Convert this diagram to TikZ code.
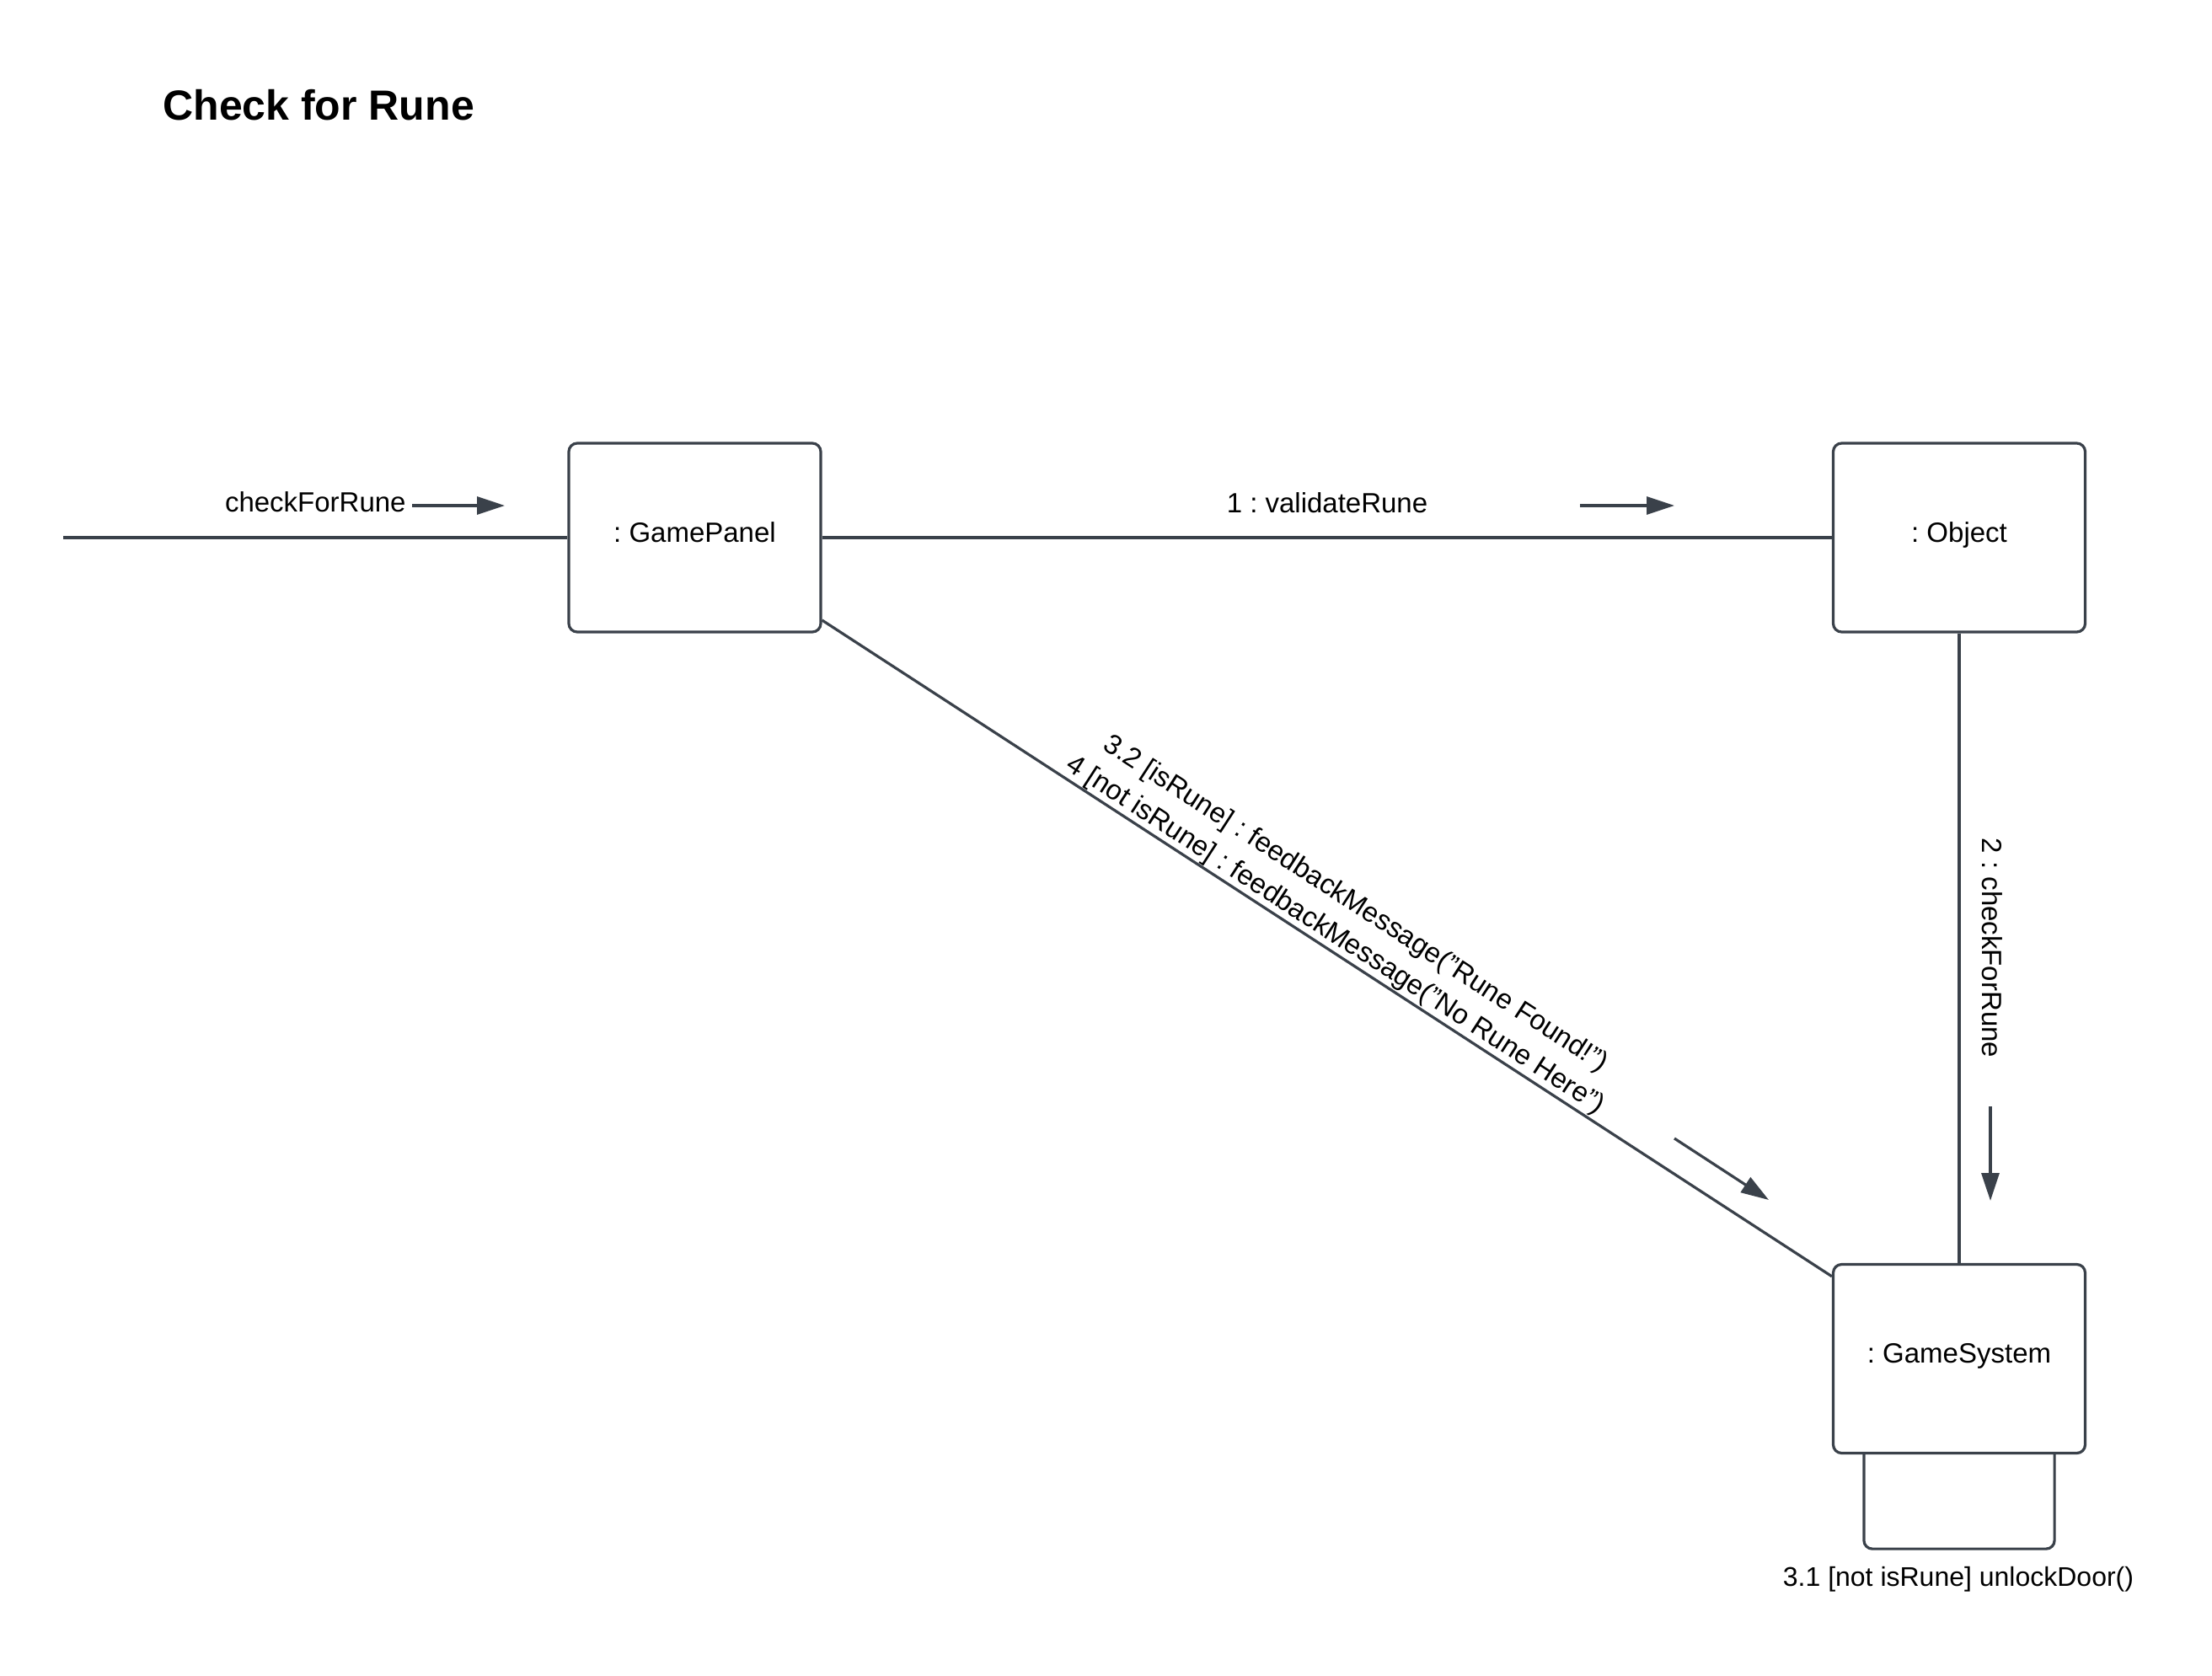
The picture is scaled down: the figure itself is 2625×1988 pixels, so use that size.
\documentclass[tikz,border=0pt]{standalone}
\usepackage{fontspec}
\setmainfont{Liberation Sans}
\usetikzlibrary{arrows.meta}
\definecolor{lineGray}{RGB}{58,65,74}
\frenchspacing

\begin{document}
\begin{tikzpicture}[x=0.5pt, y=-0.5pt,
  every node/.style = {font=\fontsize{16.5}{22}\selectfont},
  object/.style = {shape=rectangle, rounded corners=5pt,
    draw=lineGray, line width=1.6pt,
    text height=12pt, text depth=7pt,
    minimum width=149.5pt, minimum height=112pt},
  link/.style = {draw=lineGray, line width=1.6pt},
  msg/.style = {link, -{Triangle[length=16.5pt, width=10.5pt]}}]
  \useasboundingbox (0,0) rectangle (2625,1988);
  \node[anchor=base west, inner sep=0pt, font=\fontsize{25}{30}\selectfont\bfseries] (title) at (193,142) {Check for Rune};
  % objects
  \node[object] (panel) at (824.5,638) {: GamePanel};
  \node[object] (obj) at (2325,638) {: Object};
  \node[object] (sys) at (2325,1612.5) {: GameSystem};
  % links
  \coordinate (start) at (75,638);
  \draw[link] (start) -- (panel);
  \draw[link] (panel) -- (obj);
  \draw[link] (obj) -- (sys);
  \draw[link] (panel) -- node[sloped, above, align=center, inner sep=0.5pt] (fbLabel)
    {3.2 [isRune] : feedbackMessage("Rune Found!")\\4 [not isRune] : feedbackMessage("No Rune Here")} (sys);
  \draw[link, rounded corners=5pt] ([xshift=19pt]sys.south west) -- ++(0,112) -| ([xshift=-19pt]sys.south east);
  % messages
  \node[anchor=base east, inner sep=0pt] (inLabel) at (482,607) {checkForRune};
  \coordinate (m0s) at (489,600);
  \coordinate (m0e) at (599,600);
  \draw[msg] (m0s) -- (m0e);
  \node[anchor=base, inner sep=0pt] (valLabel) at (1575,608) {1 : validateRune};
  \coordinate (m1s) at (1875,600);
  \coordinate (m1e) at (1987,600);
  \draw[msg] (m1s) -- (m1e);
  \node[rotate=-90] (chkLabel) at (2364,1125) {2 : checkForRune};
  \coordinate (m2s) at (2362,1313);
  \coordinate (m2e) at (2362,1425);
  \draw[msg] (m2s) -- (m2e);
  \coordinate (m3s) at (1987,1351);
  \coordinate (m3e) at (2099,1424);
  \draw[msg] (m3s) -- (m3e);
  \node[anchor=base, inner sep=0pt, font=\fontsize{16}{20}\selectfont] (loopLabel) at (2324,1882) {3.1 [not isRune] unlockDoor()};
\end{tikzpicture}
\end{document}
